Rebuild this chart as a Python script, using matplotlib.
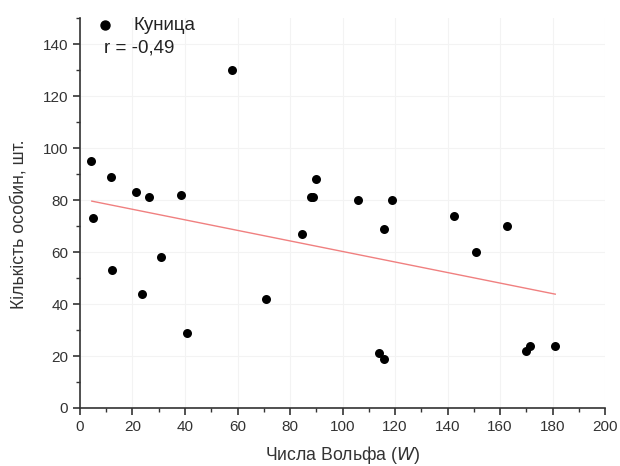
import matplotlib
matplotlib.use("Agg")
import matplotlib.pyplot as plt
from matplotlib.ticker import MultipleLocator

plt.rcParams['font.family'] = ['Liberation Sans', 'DejaVu Sans']

wolf = [4.2, 5.0, 11.8, 12.2, 21.3, 23.6, 26.3, 30.9, 38.5, 40.8, 57.9, 70.9,
        84.6, 88.0, 88.8, 89.9, 105.9, 113.9, 115.8, 115.8, 119.0, 142.5, 151.0,
        162.7, 170.0, 171.4, 181.0]
count = [95, 73, 89, 53, 83, 44, 81, 58, 82, 29, 130, 42,
         67, 81, 81, 88, 80, 21, 19, 69, 80, 74, 60,
         70, 22, 24, 24]
fit_x = [4.5, 181.0]
fit_y = [79.6, 43.8]

fig = plt.figure(figsize=(6.2, 4.66), dpi=100)
ax = fig.add_axes([0.129, 0.1245, 0.847, 0.8365])

ax.grid(True, color='#f3f3f3', linewidth=0.8, zorder=0)
ax.plot(fit_x, fit_y, color='#f08080', linewidth=1.0, zorder=2)
ax.scatter(wolf, count, s=42, color='black', zorder=3, linewidths=0)

ax.set_xlim(0, 200)
ax.set_ylim(0, 150)
ax.xaxis.set_major_locator(MultipleLocator(20))
ax.xaxis.set_minor_locator(MultipleLocator(10))
ax.yaxis.set_major_locator(MultipleLocator(20))
ax.yaxis.set_minor_locator(MultipleLocator(10))
ax.set_yticks(range(0, 141, 20))

for s in ['top', 'right']:
    ax.spines[s].set_visible(False)
for s in ['left', 'bottom']:
    ax.spines[s].set_linewidth(1.2)
    ax.spines[s].set_color('#333333')

ax.tick_params(which='major', direction='out', length=5, width=1.2, colors='#333333',
               labelsize=11, labelcolor='#333333')
ax.tick_params(which='minor', direction='out', length=3, width=1.0, colors='#333333')

ax.set_xlabel('Числа Вольфа ($\\it{W}$)', fontsize=12.7, color='#333333', va='center')
ax.xaxis.set_label_coords(0.5, -0.121)
ax.set_ylabel('Кількість особин, шт.', fontsize=12.7, color='#333333', va='center')
ax.yaxis.set_label_coords(-0.116, 0.472)

ax.scatter([0.048], [0.982], s=42, color='black', transform=ax.transAxes, clip_on=False)
ax.text(0.101, 0.982, 'Куница', transform=ax.transAxes, fontsize=13.5, va='center',
        color='#222222')
ax.text(0.046, 0.923, 'r = -0,49', transform=ax.transAxes, fontsize=13.5, va='center',
        color='#222222')

fig.savefig('out.png', dpi=100)
